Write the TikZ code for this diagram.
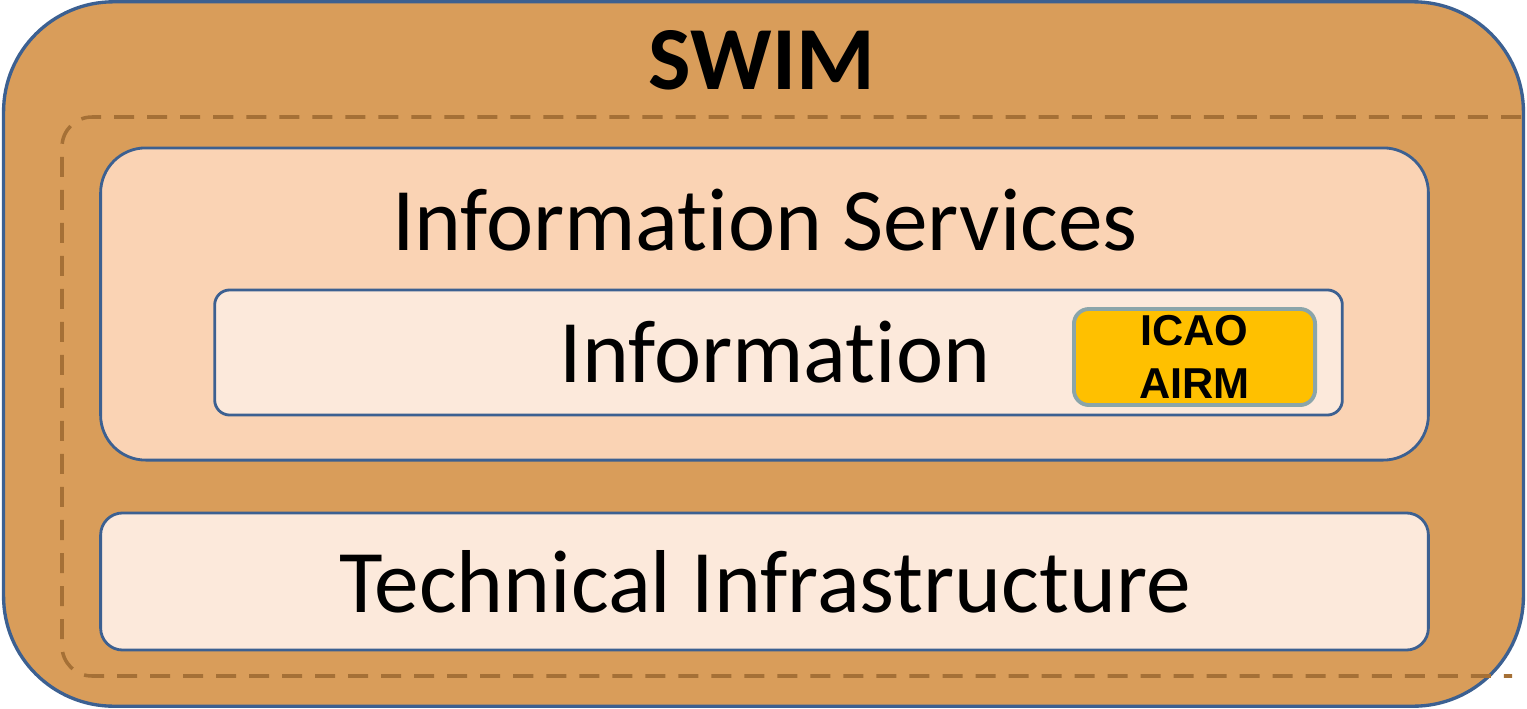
\documentclass[tikz,border=0pt]{standalone}
\usepackage{fontspec}
\setmainfont{Carlito}[Ligatures=NoCommon]
\newfontfamily\arialfont{Liberation Sans}
\usepackage{tikz}
\usetikzlibrary{positioning}

\definecolor{swimfill}{RGB}{217,157,90}
\definecolor{swimline}{RGB}{60,96,145}
\definecolor{dashcol}{RGB}{165,112,54}
\definecolor{svcfill}{RGB}{250,211,180}
\definecolor{lightfill}{RGB}{252,233,219}
\definecolor{airmfill}{RGB}{255,192,0}
\definecolor{airmline}{RGB}{138,165,170}

\tikzset{
  capa/.style={draw=swimline, line width=0.8pt, inner sep=0pt, outer sep=0pt},
  rotulo/.style={anchor=base, inner sep=0pt, font=\fontsize{25.4}{30}\selectfont}
}

\begin{document}
\begin{tikzpicture}[x=0.01cm, y=-0.01cm]
        \useasboundingbox (0,0) rectangle (1527,709);
        % Caja exterior
        \node[capa, fill=swimfill, line width=0.95pt, rounded corners=1.1cm,
              minimum width=15.19cm, minimum height=7.04cm] (swim) at (763.5,354) {};
        % Linea discontinua
        \draw[dashcol, line width=1pt, dash pattern=on 0.2cm off 0.13cm, rounded corners=0.3cm]
              (1521,117) -- (62,117) -- (62,676) -- (1512,676);
        \node[anchor=base, inner sep=0pt, font=\bfseries\fontsize{25.6}{30}\selectfont] (titulo) at (762,89) {SWIM};
        % Servicios de informacion
        \node[capa, fill=svcfill, rounded corners=0.45cm,
              minimum width=13.27cm, minimum height=3.12cm] (servicios) at (764.5,304) {};
        \node[rotulo] (servtxt) at (765,250) {Information Services};
        % Informacion
        \node[capa, fill=lightfill, rounded corners=0.15cm,
              minimum width=11.27cm, minimum height=1.25cm] (info) at (778.5,352.5) {};
        \node[rotulo] (infotxt) at (775,382) {Information};
        % ICAO AIRM
        \node[draw=airmline, fill=airmfill, line width=1.1pt, rounded corners=0.15cm,
              minimum width=2.41cm, minimum height=0.96cm, inner sep=0pt,
              align=center, font=\arialfont\bfseries\fontsize{12.3}{15}\selectfont] (airm) at (1194.5,357) {ICAO\\AIRM};
        % Infraestructura tecnica
        \node[capa, fill=lightfill, rounded corners=0.22cm,
              minimum width=13.27cm, minimum height=1.37cm] (infra) at (764.5,581.5) {};
        \node[rotulo] (infratxt) at (765,612) {Technical Infrastructure};
    \end{tikzpicture}
\end{document}
